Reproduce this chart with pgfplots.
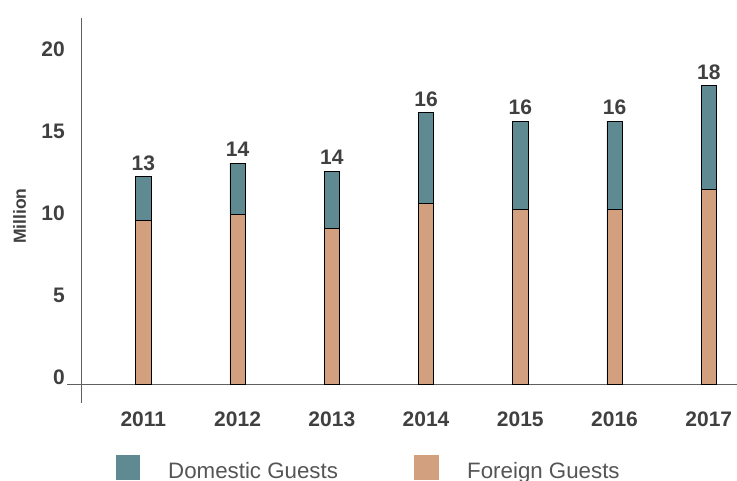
\documentclass[border=0pt]{standalone}
\usepackage{fontspec}
\setmainfont{Liberation Sans}
\usepackage{pgfplots}
\pgfplotsset{compat=1.18}
\definecolor{domc}{HTML}{5F8A91}
\definecolor{forc}{HTML}{D3A07F}
\definecolor{txt}{HTML}{404040}
\definecolor{legt}{HTML}{555555}
\definecolor{axc}{HTML}{606060}
\begin{document}
\begin{tikzpicture}
\path[use as bounding box] (0,0) rectangle (737pt,481pt);
\begin{axis}[
  at={(67pt,78pt)}, anchor=south west,
  scale only axis, width=670pt, height=385pt,
  xmin=-0.81, xmax=6.299, ymin=-1.14, ymax=22.34,
  axis line style={draw=none}, major tick length=0pt,
  ybar stacked, bar width=15.3pt,
  xtick={0,1,2,3,4,5,6},
  xticklabels={2011,2012,2013,2014,2015,2016,2017},
  ytick={0,5,10,15,20},
  yticklabels={0,5,10,15,20},
  xticklabel style={font=\fontsize{21}{21}\selectfont\bfseries, text=txt, anchor=base, inner sep=0pt, yshift=-23.7pt},
  yticklabel style={font=\fontsize{21}{21}\selectfont\bfseries, text=txt, anchor=base east, inner sep=0pt, xshift=-2pt},
  ylabel={Million},
  every axis y label/.style={at={(rel axis cs:0,0.485)}, xshift=-47.5pt, anchor=center, rotate=90, inner sep=0pt, font=\fontsize{17.5}{17.5}\selectfont\bfseries, text=txt},
  clip=false,
]
\addplot[fill=forc, draw=black, line width=0.8pt] coordinates {
  (0,10.02) (1,10.37) (2,9.49) (3,11.05) (4,10.65) (5,10.65) (6,11.91)};
\addplot[fill=domc, draw=black, line width=0.8pt] coordinates {
  (0,2.64) (1,3.11) (2,3.51) (3,5.51) (4,5.40) (5,5.40) (6,6.30)};
\draw[axc, line width=1pt] (axis cs:-0.661,-1.14) -- (axis cs:-0.661,22.34);
\draw[axc, line width=1pt] (axis cs:-0.81,0) -- (axis cs:6.299,0);
\end{axis}
\begin{axis}[
  at={(67pt,78pt)}, anchor=south west,
  scale only axis, width=670pt, height=385pt,
  xmin=-0.81, xmax=6.299, ymin=-1.14, ymax=22.34,
  hide axis, clip=false,
]
\addplot[only marks, mark=none,
  nodes near coords, point meta=explicit symbolic,
  every node near coord/.append style={anchor=base, inner sep=0pt, yshift=6.7pt, font=\fontsize{21}{21}\selectfont\bfseries, text=txt}] coordinates {
  (0,12.66) [13] (1,13.48) [14] (2,13.00) [14] (3,16.56) [16] (4,16.05) [16] (5,16.05) [16] (6,18.21) [18]};
\end{axis}
\fill[domc] (116pt,1pt) rectangle (140pt,26pt);
\fill[forc] (414pt,1pt) rectangle (439pt,26pt);
\node[anchor=base west, inner sep=0pt, text=legt, font=\fontsize{22.3}{22.3}\selectfont] at (168pt,2pt) {Domestic Guests};
\node[anchor=base west, inner sep=0pt, text=legt, font=\fontsize{22.3}{22.3}\selectfont] at (467pt,2pt) {Foreign Guests};
\end{tikzpicture}
\end{document}
